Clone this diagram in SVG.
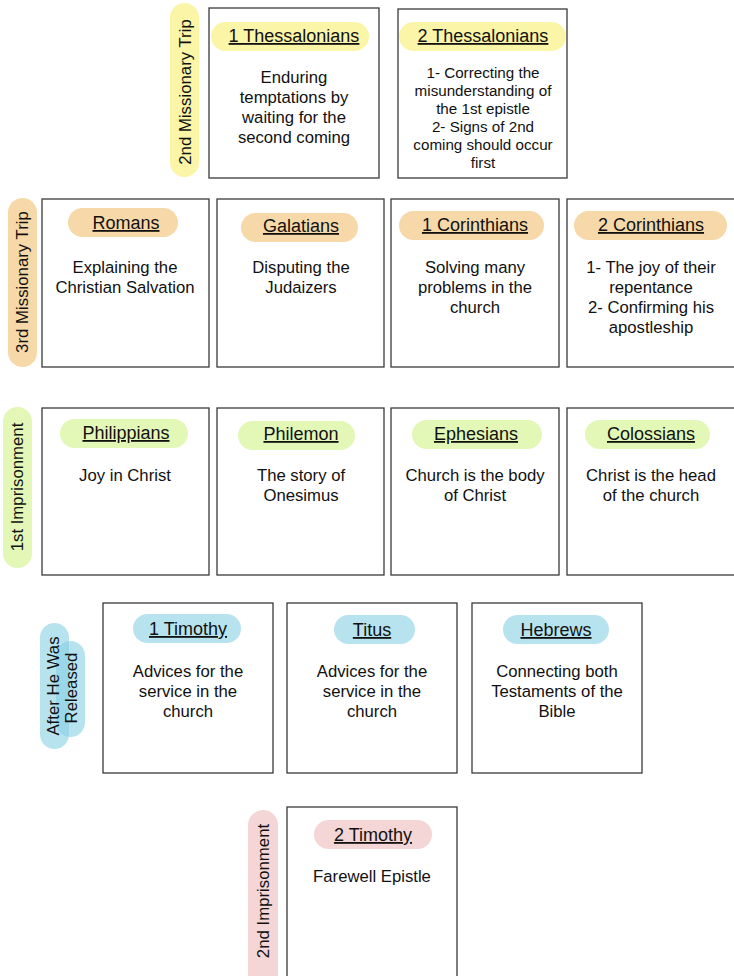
<svg xmlns="http://www.w3.org/2000/svg" width="734" height="976" viewBox="0 0 734 976">
<style>
.box{fill:#fff;stroke:#3a3a3a;stroke-width:1.3}
text{font-family:"Liberation Sans",Arial,sans-serif;fill:#111;text-anchor:middle}
.t{font-size:18px;text-decoration:underline}
.b{font-size:16.7px}
.s{font-size:15.2px}
.l{font-size:16.8px}
.y{fill:#fbf5a7}
.o{fill:#f7d9a9}
.g{fill:#e3f8b6}
.bl{fill:#87d0e4;opacity:0.6}
.bs{fill:#b7e3ef}
.p{fill:#f4d6d6}
</style>
<rect width="734" height="976" fill="#fff"/>

<g id="label-2nd-missionary">
<rect class="y" x="170" y="3" width="29" height="174" rx="14.5"/>
<text class="l" transform="translate(191,92) rotate(-90)">2nd Missionary Trip</text>
</g>
<g id="n-1thess">
<rect class="box" x="209" y="8" width="170" height="170"/>
<rect class="y" x="211" y="22" width="158" height="29" rx="14.5"/>
<text class="t" x="294" y="42">1 Thessalonians</text>
<text class="b" x="294" y="83">Enduring</text>
<text class="b" x="294" y="103">temptations by</text>
<text class="b" x="294" y="123">waiting for the</text>
<text class="b" x="294" y="143">second coming</text>
</g>
<g id="n-2thess">
<rect class="box" x="398" y="9" width="169" height="169"/>
<rect class="y" x="399" y="22" width="167" height="29" rx="14.5"/>
<text class="t" x="483" y="42">2 Thessalonians</text>
<text class="s" x="483" y="78">1- Correcting the</text>
<text class="s" x="483" y="96">misunderstanding of</text>
<text class="s" x="483" y="114">the 1st epistle</text>
<text class="s" x="483" y="132">2- Signs of 2nd</text>
<text class="s" x="483" y="150">coming should occur</text>
<text class="s" x="483" y="168">first</text>
</g>

<g id="label-3rd-missionary">
<rect class="o" x="8" y="198" width="29" height="169" rx="14.5"/>
<text class="l" transform="translate(28,282) rotate(-90)">3rd Missionary Trip</text>
</g>
<g id="n-romans">
<rect class="box" x="42" y="199" width="167" height="168"/>
<rect class="o" x="68" y="208" width="110" height="29" rx="14.5"/>
<text class="t" x="126" y="229">Romans</text>
<text class="b" x="125" y="273">Explaining the</text>
<text class="b" x="125" y="293">Christian Salvation</text>
</g>
<g id="n-galatians">
<rect class="box" x="217" y="199" width="167" height="168"/>
<rect class="o" x="241" y="213" width="117" height="29" rx="14.5"/>
<text class="t" x="301" y="232">Galatians</text>
<text class="b" x="301" y="273">Disputing the</text>
<text class="b" x="301" y="293">Judaizers</text>
</g>
<g id="n-1cor">
<rect class="box" x="391" y="199" width="168" height="168"/>
<rect class="o" x="399" y="211" width="145" height="29" rx="14.5"/>
<text class="t" x="475" y="231">1 Corinthians</text>
<text class="b" x="475" y="273">Solving many</text>
<text class="b" x="475" y="293">problems in the</text>
<text class="b" x="475" y="313">church</text>
</g>
<g id="n-2cor">
<rect class="box" x="567" y="199" width="168" height="168"/>
<rect class="o" x="574" y="211" width="153" height="29" rx="14.5"/>
<text class="t" x="651" y="231">2 Corinthians</text>
<text class="b" x="651" y="273">1- The joy of their</text>
<text class="b" x="651" y="293">repentance</text>
<text class="b" x="651" y="313">2- Confirming his</text>
<text class="b" x="651" y="333">apostleship</text>
</g>

<g id="label-1st-imprisonment">
<rect class="g" x="3" y="407" width="29" height="161" rx="14.5"/>
<text class="l" transform="translate(23,487) rotate(-90)">1st Imprisonment</text>
</g>
<g id="n-philippians">
<rect class="box" x="42" y="408" width="167" height="167"/>
<rect class="g" x="60" y="419" width="128" height="29" rx="14.5"/>
<text class="t" x="126" y="439">Philippians</text>
<text class="b" x="125" y="481">Joy in Christ</text>
</g>
<g id="n-philemon">
<rect class="box" x="217" y="408" width="167" height="167"/>
<rect class="g" x="238" y="421" width="117" height="29" rx="14.5"/>
<text class="t" x="301" y="440">Philemon</text>
<text class="b" x="301" y="481">The story of</text>
<text class="b" x="301" y="501">Onesimus</text>
</g>
<g id="n-ephesians">
<rect class="box" x="391" y="408" width="168" height="167"/>
<rect class="g" x="412" y="420" width="130" height="29" rx="14.5"/>
<text class="t" x="476" y="440">Ephesians</text>
<text class="b" x="475" y="481">Church is the body</text>
<text class="b" x="475" y="501">of Christ</text>
</g>
<g id="n-colossians">
<rect class="box" x="567" y="408" width="168" height="167"/>
<rect class="g" x="585" y="420" width="125" height="29" rx="14.5"/>
<text class="t" x="651" y="440">Colossians</text>
<text class="b" x="651" y="481">Christ is the head</text>
<text class="b" x="651" y="501">of the church</text>
</g>

<g id="label-after-released">
<rect class="bl" x="40" y="623" width="29" height="126" rx="14.5"/>
<rect class="bl" x="56" y="641" width="29" height="96" rx="14.5"/>
<text class="l" transform="translate(59,686) rotate(-90)">After He Was</text>
<text class="l" transform="translate(77,688) rotate(-90)">Released</text>
</g>
<g id="n-1tim">
<rect class="box" x="103" y="603" width="170" height="170"/>
<rect class="bs" x="133" y="614" width="108" height="29" rx="14.5"/>
<text class="t" x="188" y="635">1 Timothy</text>
<text class="b" x="188" y="677">Advices for the</text>
<text class="b" x="188" y="697">service in the</text>
<text class="b" x="188" y="717">church</text>
</g>
<g id="n-titus">
<rect class="box" x="287" y="603" width="170" height="170"/>
<rect class="bs" x="334" y="615" width="81" height="29" rx="14.5"/>
<text class="t" x="372" y="636">Titus</text>
<text class="b" x="372" y="677">Advices for the</text>
<text class="b" x="372" y="697">service in the</text>
<text class="b" x="372" y="717">church</text>
</g>
<g id="n-hebrews">
<rect class="box" x="472" y="603" width="170" height="170"/>
<rect class="bs" x="503" y="615" width="106" height="29" rx="14.5"/>
<text class="t" x="556" y="636">Hebrews</text>
<text class="b" x="557" y="677">Connecting both</text>
<text class="b" x="557" y="697">Testaments of the</text>
<text class="b" x="557" y="717">Bible</text>
</g>

<g id="label-2nd-imprisonment">
<rect class="p" x="248" y="810" width="30" height="180" rx="15"/>
<text class="l" transform="translate(269,891) rotate(-90)">2nd Imprisonment</text>
</g>
<g id="n-2tim">
<rect class="box" x="287" y="807" width="170" height="180"/>
<rect class="p" x="314" y="820" width="118" height="29" rx="14.5"/>
<text class="t" x="373" y="841">2 Timothy</text>
<text class="b" x="372" y="882">Farewell Epistle</text>
</g>

<g id="connectors"></g>
</svg>
